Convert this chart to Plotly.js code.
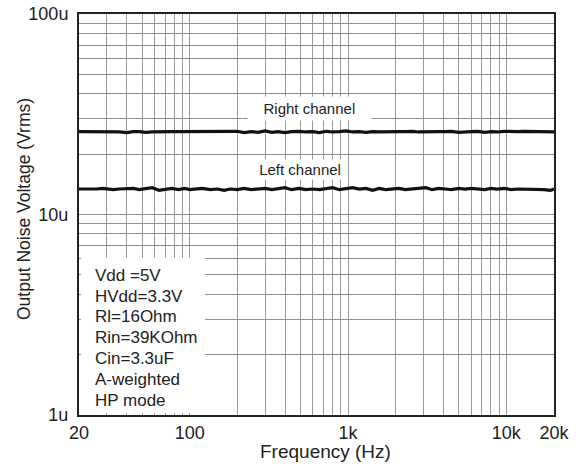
<!DOCTYPE html>
<html>
<head>
<meta charset="utf-8">
<script src="https://cdn.plot.ly/plotly-3.0.1.min.js"></script>
<style>html,body{margin:0;padding:0;background:#fff;}#chart{width:585px;height:466px;}</style>
</head>
<body>
<div id="chart"></div>
<script>
// Frequency sweep points (Hz)
var freqHz = [20, 22, 24, 26, 28, 30, 33, 36, 40, 44, 48, 53, 58, 64, 70, 77, 85, 93, 100, 110,
  120, 135, 150, 165, 180, 200, 220, 245, 270, 300, 330, 360, 400, 440, 490, 540, 600, 660, 730, 800,
  880, 970, 1070, 1180, 1300, 1430, 1570, 1730, 1900, 2100, 2300, 2550, 2800, 3100, 3400, 3750, 4100, 4500, 5000, 5500,
  6000, 6600, 7300, 8000, 8800, 9700, 10700, 11800, 13000, 14300, 15700, 17300, 19000, 20000];
// Output noise, microvolts rms
var rightUv = [25.9, 25.9, 25.9, 25.9, 25.9, 25.9, 25.9, 25.8, 25.6, 25.9, 25.9, 25.7, 25.8, 25.9, 25.9, 25.9, 25.9, 25.9, 25.8, 25.9,
  25.9, 25.9, 25.9, 25.9, 25.8, 26.0, 25.6, 25.9, 25.7, 26.1, 25.7, 25.9, 25.6, 25.9, 26.0, 25.8, 25.9, 25.6, 26.0, 25.8,
  25.9, 26.1, 25.8, 25.9, 25.7, 25.9, 25.8, 25.9, 25.9, 25.9, 25.9, 26.0, 25.8, 25.9, 26.0, 25.9, 25.9, 26.0, 25.7, 25.9,
  25.9, 26.0, 25.7, 25.9, 25.8, 26.0, 25.9, 25.9, 26.0, 26.0, 25.9, 25.9, 25.9, 25.8];
var leftUv = [13.4, 13.4, 13.3, 13.4, 13.5, 13.4, 13.3, 13.4, 13.4, 13.5, 13.3, 13.4, 13.6, 13.2, 13.4, 13.5, 13.3, 13.5, 13.3, 13.4,
  13.5, 13.3, 13.4, 13.2, 13.4, 13.3, 13.5, 13.3, 13.4, 13.5, 13.3, 13.4, 13.6, 13.3, 13.5, 13.3, 13.4, 13.3, 13.5, 13.6,
  13.3, 13.4, 13.6, 13.4, 13.5, 13.2, 13.5, 13.3, 13.4, 13.5, 13.3, 13.4, 13.4, 13.6, 13.3, 13.5, 13.4, 13.3, 13.5, 13.4,
  13.5, 13.4, 13.3, 13.5, 13.4, 13.5, 13.3, 13.4, 13.4, 13.3, 13.3, 13.3, 13.2, 13.4];
var xGridVals = [20, 30, 40, 50, 60, 70, 80, 90, 100, 200, 300, 400, 500, 600, 700, 800, 900, 1000,
  2000, 3000, 4000, 5000, 6000, 7000, 8000, 9000, 10000, 20000];
var xTickText = ["20", "", "", "", "", "", "", "", "100", "", "", "", "", "", "", "", "", "1k",
  "", "", "", "", "", "", "", "", "10k", "20k"];
var yGridVals = [1, 2, 3, 4, 5, 6, 7, 8, 9, 10, 20, 30, 40, 50, 60, 70, 80, 90, 100];
var yTickText = ["1u", "", "", "", "", "", "", "", "", "10u", "", "", "", "", "", "", "", "", "100u"];
var conditions = ["Vdd =5V", "HVdd=3.3V", "Rl=16Ohm", "Rin=39KOhm", "Cin=3.3uF", "A-weighted", "HP mode"];
var seriesLabels = ["Right channel", "Left channel"];
var xTitle = "Frequency (Hz)";
var yTitle = "Output Noise Voltage (Vrms)";

var FONT = "Liberation Sans, Arial, Helvetica, sans-serif";
var traces = [
  {x: freqHz, y: rightUv, mode: "lines", line: {color: "#111", width: 3.2}, showlegend: false, hoverinfo: "skip"},
  {x: freqHz, y: leftUv, mode: "lines", line: {color: "#111", width: 3.2}, showlegend: false, hoverinfo: "skip"}
];

// plot area 79..554 x 14..415 px
function py(p) { return (415 - p) / 401; }
function px(p) { return (p - 79) / 475; }
var annotations = [
  {x: px(309), y: py(108.5), xref: "paper", yref: "paper", xanchor: "center", yanchor: "middle",
   text: "   " + seriesLabels[0] + "   ", showarrow: false,
   font: {family: FONT, size: 15, color: "#222"}, bgcolor: "#fff", borderpad: 3},
  {x: px(300), y: py(169.5), xref: "paper", yref: "paper", xanchor: "center", yanchor: "middle",
   text: " " + seriesLabels[1] + " ", showarrow: false,
   font: {family: FONT, size: 15, color: "#222"}, bgcolor: "#fff", borderpad: 1},
  {x: px(325), y: py(451), xref: "paper", yref: "paper", xanchor: "center", yanchor: "middle",
   text: xTitle, showarrow: false, font: {family: FONT, size: 19, color: "#222"}},
  {x: px(24), y: py(209), xref: "paper", yref: "paper", xanchor: "center", yanchor: "middle",
   text: yTitle, textangle: -90, showarrow: false, font: {family: FONT, size: 17.5, color: "#222"}}
];
var lineY = [275, 296, 316, 337, 358, 379, 400];
for (var i = 0; i < conditions.length; i++) {
  annotations.push({x: px(93), y: py(lineY[i]), xref: "paper", yref: "paper", xanchor: "left",
    yanchor: "middle", text: conditions[i], showarrow: false, font: {family: FONT, size: 17, color: "#222"}});
}

var layout = {
  width: 585, height: 466,
  margin: {l: 79, r: 31, t: 14, b: 51},
  paper_bgcolor: "#fff", plot_bgcolor: "#fff",
  font: {family: FONT, color: "#222"},
  xaxis: {
    type: "log", range: [Math.log10(20), Math.log10(20000)],
    tickmode: "array", tickvals: xGridVals, ticktext: xTickText,
    showgrid: true, gridcolor: "#9a9a9a", gridwidth: 1,
    ticks: "",
    showline: true, linecolor: "#222", linewidth: 2, mirror: true,
    tickfont: {family: FONT, size: 18, color: "#222"},
    zeroline: false, fixedrange: true
  },
  yaxis: {
    type: "log", range: [0, 2],
    tickmode: "array", tickvals: yGridVals, ticktext: yTickText,
    showgrid: true, gridcolor: "#8f8f8f", gridwidth: 1,
    ticks: "", ticklabelstandoff: 5,
    showline: true, linecolor: "#222", linewidth: 2, mirror: true,
    tickfont: {family: FONT, size: 18, color: "#222"},
    zeroline: false, fixedrange: true
  },
  shapes: [
    {type: "rect", xref: "paper", yref: "paper", x0: px(81), x1: px(205), y0: py(413), y1: py(258),
     fillcolor: "#fff", line: {width: 0}, layer: "above"}
  ],
  annotations: annotations
};
Plotly.newPlot("chart", traces, layout, {staticPlot: true, displayModeBar: false});
</script>
</body>
</html>
